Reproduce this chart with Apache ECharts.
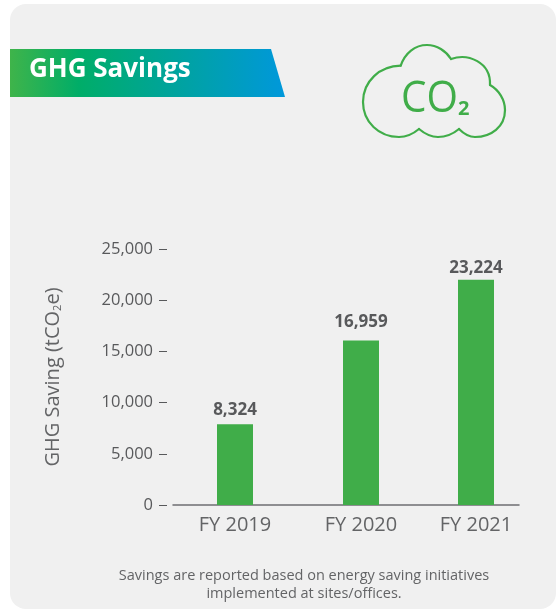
<!DOCTYPE html>
<html>
<head>
<meta charset="utf-8">
<style>
  html, body { margin: 0; padding: 0; background: #fff; }
  #chart { width: 556px; height: 610px; }
</style>
<script src="https://cdn.jsdelivr.net/npm/echarts@6/dist/echarts.min.js"></script>
</head>
<body>
<div id="chart"></div>
<script>
var categories = ['FY 2019', 'FY 2020', 'FY 2021'];
var savings = [8324, 16959, 23224];
var yTicks = [0, 5000, 10000, 15000, 20000, 25000];

var textColor = '#58595b';
var green = '#40ad49';

// the FY columns are not evenly spaced in the original, so the axis has one slot per pixel
var slotCount = 347;
var categorySlots = [62, 188, 303];
// value labels do not sit at a constant height above the bars either
var labelLifts = [3, 7, 0];

// the printed tick labels and the bar heights disagree in the original:
// bars are to scale against this maximum, not against the visible 0-25,000 ticks
var barAxisMax = 26400;

var xData = [];
var barData = [];
for (var i = 0; i < slotCount; i++) {
  var idx = categorySlots.indexOf(i);
  xData.push(idx >= 0 ? categories[idx] : '');
  barData.push(idx >= 0 ? { value: savings[idx], label: { offset: [0, -labelLifts[idx]] } } : null);
}

// cloud outline, one entry per curve: start, control 1, control 2, end
var cloud = [
  [400.7, 65.7, 405, 53, 415, 45, 427, 45],
  [427, 45, 437, 45, 446, 51, 451, 59],
  [451, 59, 468, 53, 491, 62, 490, 85],
  [490, 85, 499, 90, 505, 100, 505, 110],
  [505, 110, 505, 127, 491, 137, 475, 137],
  [475, 137, 469, 137, 464, 134, 459, 129],
  [459, 129, 453, 134, 446, 137, 438, 137],
  [438, 137, 431, 137, 425, 134, 419, 129],
  [419, 129, 413, 134, 407, 137, 399, 137],
  [399, 137, 379, 137, 363, 122, 363, 102],
  [363, 102, 363, 81, 380, 66, 400.7, 65.7]
];

var graphics = [
  {
    type: 'rect', silent: true, z: -10,
    shape: { x: 10, y: 4, width: 546, height: 605, r: 16 },
    style: { fill: '#f0f0f0' }
  },
  {
    type: 'polygon', silent: true, z: -9,
    shape: { points: [[10, 49], [271, 49], [285, 97], [10, 97]] },
    style: {
      fill: new echarts.graphic.LinearGradient(0, 0, 1, 0, [
        { offset: 0, color: '#3fb44a' },
        { offset: 0.25, color: '#00ad68' },
        { offset: 1, color: '#0098db' }
      ])
    }
  },
  {
    type: 'text', silent: true, x: 401, y: 121, scaleX: 0.92,
    style: { text: 'CO', fill: green, font: '44px "Open Sans"', textAlign: 'left', textVerticalAlign: 'bottom' }
  },
  {
    type: 'text', silent: true, x: 458, y: 119,
    style: { text: '2', fill: green, font: 'bold 20px "Open Sans"', textAlign: 'left', textVerticalAlign: 'bottom' }
  },
  {
    type: 'text', silent: true, x: 304, y: 567,
    style: {
      text: 'Savings are reported based on energy saving initiatives\nimplemented at sites/offices.',
      fill: '#636466', font: '14.5px "Open Sans"', lineHeight: 18, textAlign: 'center'
    }
  }
];
cloud.forEach(function (c) {
  graphics.push({
    type: 'bezierCurve', silent: true,
    shape: { x1: c[0], y1: c[1], cpx1: c[2], cpy1: c[3], cpx2: c[4], cpy2: c[5], x2: c[6], y2: c[7] },
    style: { stroke: green, lineWidth: 2.2, fill: null, lineCap: 'round' }
  });
});

var myChart = echarts.init(document.getElementById('chart'));
myChart.setOption({
  animation: false,
  backgroundColor: '#fff',
  textStyle: { fontFamily: '"Open Sans"' },
  title: {
    text: 'GHG Savings',
    left: 24,
    top: 52,
    textStyle: { color: '#fff', fontFamily: '"Open Sans"', fontWeight: 'bold', fontSize: 26 }
  },
  graphic: graphics,
  grid: { left: 173, top: 249, width: 346, height: 256 },
  xAxis: {
    type: 'category',
    data: xData,
    boundaryGap: false,
    axisTick: { show: false },
    axisLine: { lineStyle: { color: '#6d6e71', width: 1.5 } },
    axisLabel: { interval: 0, margin: 10, color: '#636466', fontSize: 20 }
  },
  yAxis: [
    {
      type: 'value',
      min: yTicks[0],
      max: yTicks[yTicks.length - 1],
      interval: yTicks[1],
      offset: 6,
      name: 'GHG Saving (tCO{sub|2}e)',
      nameLocation: 'middle',
      nameGap: 104,
      nameTextStyle: {
        color: '#636466',
        fontSize: 20,
        rich: { sub: { fontSize: 11, color: '#636466', verticalAlign: 'bottom', padding: [8, 0, 0, 0] } }
      },
      splitLine: { show: false },
      axisLine: { show: false },
      axisTick: { show: true, length: 8, lineStyle: { color: textColor, width: 1 } },
      axisLabel: { margin: 14, color: textColor, fontSize: 16.5, formatter: function (v) { return echarts.format.addCommas(v); } }
    },
    { type: 'value', show: false, min: 0, max: barAxisMax, splitLine: { show: false } }
  ],
  series: [{
    type: 'bar',
    yAxisIndex: 1,
    data: barData,
    barWidth: 36,
    itemStyle: { color: green },
    label: {
      show: true,
      position: 'top',
      distance: 3,
      color: textColor,
      fontFamily: '"Open Sans"',
      fontWeight: 'bold',
      fontSize: 17,
      formatter: function (p) { return echarts.format.addCommas(p.value); }
    }
  }]
});
</script>
</body>
</html>
